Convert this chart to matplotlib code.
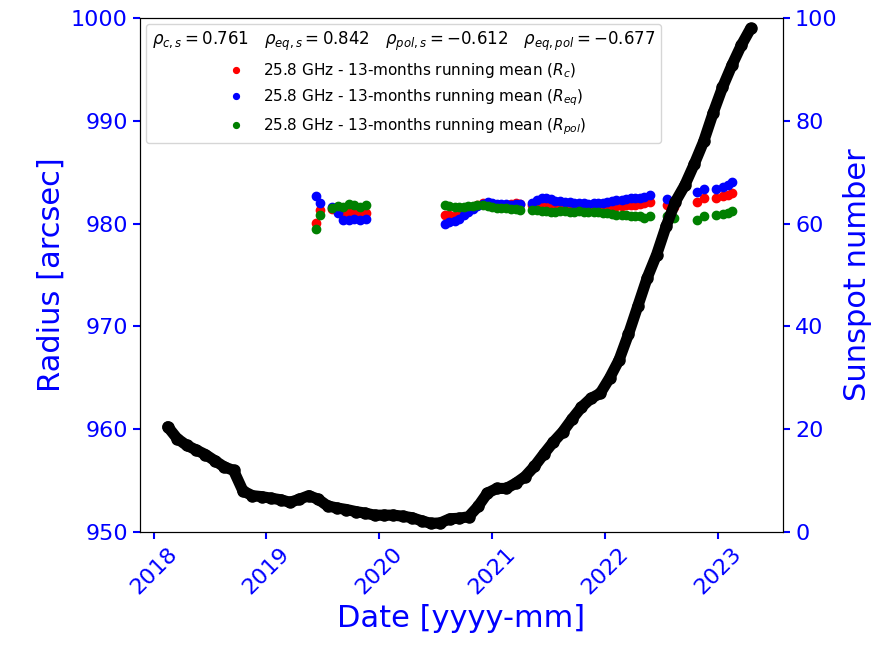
import matplotlib
matplotlib.use("Agg")
import matplotlib.pyplot as plt

# monthly sunspot number (13-month smoothed), Feb 2018 .. Apr 2023
sunspot_start = (2018, 2)
sunspot = [20.5, 18.2, 16.9, 16.0, 15.1, 13.9, 12.7, 12.0, 8.0, 7.1, 6.9,
           6.6, 6.3, 5.8, 6.4, 7.1, 6.4, 5.1, 4.7, 4.4, 4.0, 3.7, 3.3,
           3.3, 3.3, 3.1, 2.8, 2.2, 1.7, 1.8, 2.6, 2.7, 3.0, 5.0, 7.6,
           8.5, 8.5, 9.5, 10.8, 12.8, 15.2, 17.5, 19.5, 22.0, 24.3, 26.0, 27.0,
           30.0, 33.5, 38.5, 44.0, 49.5, 54.0, 59.5, 64.3, 67.5, 71.6, 76.0, 81.5,
           86.5, 90.8, 94.7, 98.0]

# 25.8 GHz radius, 13-month running means (decimal years)
t_rad = [2019.44, 2019.47, 2019.58, 2019.63, 2019.68, 2019.73, 2019.78, 2019.83, 2019.88,
         2020.58, 2020.62, 2020.67, 2020.71, 2020.75, 2020.79, 2020.83, 2020.87, 2020.92,
         2020.96, 2021.00, 2021.04, 2021.08, 2021.12, 2021.17, 2021.21, 2021.25,
         2021.35, 2021.40, 2021.44, 2021.48, 2021.52, 2021.56, 2021.60, 2021.65, 2021.69,
         2021.73, 2021.77, 2021.81, 2021.85, 2021.90, 2021.94, 2021.98, 2022.02, 2022.06,
         2022.10, 2022.15, 2022.19, 2022.23, 2022.27, 2022.31, 2022.35, 2022.40,
         2022.55, 2022.61,
         2022.82, 2022.88,
         2022.98, 2023.05, 2023.09, 2023.13]
r_c = [980.1, 981.3, 981.4, 981.2, 981.0, 981.1, 981.0, 980.9, 981.0,
       980.8, 980.8, 980.7, 980.9, 981.2, 981.5, 981.6, 981.8, 982.0,
       982.0, 981.9, 981.8, 981.8, 981.8, 981.9, 982.0, 981.9,
       981.8, 981.9, 982.0, 982.0, 981.9, 981.8, 981.8, 981.8, 981.8,
       981.8, 981.8, 981.8, 981.7, 981.8, 981.8, 981.8, 981.8, 981.7,
       981.7, 981.7, 981.8, 981.8, 981.8, 981.9, 982.0, 982.1,
       981.8, 981.6,
       982.1, 982.5,
       982.5, 982.7, 982.8, 983.0]
r_eq = [982.7, 982.0, 981.6, 981.0, 980.4, 980.4, 980.5, 980.4, 980.5,
        980.0, 980.2, 980.3, 980.5, 980.8, 981.1, 981.4, 981.7, 981.9,
        982.1, 982.0, 981.9, 981.9, 981.9, 981.8, 981.9, 981.9,
        982.0, 982.3, 982.5, 982.5, 982.4, 982.2, 982.2, 982.1, 982.1,
        982.0, 982.0, 982.0, 981.9, 982.0, 982.0, 982.0, 982.1, 982.2,
        982.3, 982.3, 982.4, 982.5, 982.5, 982.5, 982.6, 982.8,
        982.4, 982.2,
        983.1, 983.4,
        983.4, 983.6, 983.8, 984.1]
r_pol = [979.5, 980.8, 981.5, 981.7, 981.6, 981.9, 981.8, 981.6, 981.8,
         981.8, 981.7, 981.6, 981.6, 981.6, 981.7, 981.7, 981.8, 981.8,
         981.7, 981.6, 981.5, 981.5, 981.5, 981.4, 981.4, 981.3,
         981.3, 981.3, 981.2, 981.2, 981.1, 981.1, 981.2, 981.2, 981.1,
         981.1, 981.2, 981.1, 981.1, 981.1, 981.1, 981.0, 981.0, 980.9,
         980.8, 980.8, 980.8, 980.7, 980.7, 980.7, 980.6, 980.7,
         980.7, 980.6,
         980.4, 980.7,
         980.8, 980.9, 981.0, 981.2]

corr_title = (r"$\rho_{c,s}=0.761$   $\rho_{eq,s}=0.842$   "
              r"$\rho_{pol,s}=-0.612$   $\rho_{eq,pol}=-0.677$")

# mid-month decimal years for the sunspot series
y0, m0 = sunspot_start
t_ss = [y0 + (m0 - 1 + i + 0.5) / 12.0 for i in range(len(sunspot))]

fig = plt.figure(figsize=(8.84, 6.45), dpi=100)
ax1 = fig.add_axes([0.158, 0.175, 0.728, 0.797])
ax2 = ax1.twinx()

ax1.plot(t_rad, r_c, "o", color="red", ms=6,
         label=r"25.8 GHz - 13-months running mean ($R_c$)")
ax1.plot(t_rad, r_eq, "o", color="blue", ms=6,
         label=r"25.8 GHz - 13-months running mean ($R_{eq}$)")
ax1.plot(t_rad, r_pol, "o", color="green", ms=6,
         label=r"25.8 GHz - 13-months running mean ($R_{pol}$)")

ax2.plot(t_ss, sunspot, "o-", color="black", ms=8, lw=8,
         solid_capstyle="round", solid_joinstyle="round")

ax1.set_xlim(2017.876, 2023.58)
ax1.set_ylim(950, 1000)
ax2.set_ylim(0, 100)
ax1.set_xticks([2018, 2019, 2020, 2021, 2022, 2023])
ax1.set_xticklabels(["2018", "2019", "2020", "2021", "2022", "2023"], rotation=45)
ax1.set_yticks(range(950, 1001, 10))
ax2.set_yticks(range(0, 101, 20))

ax1.tick_params(axis="both", colors="blue", labelsize=16, width=1.5, length=5)
ax2.tick_params(axis="y", colors="blue", labelsize=16, width=1.5, length=5)
ax1.set_xlabel("Date [yyyy-mm]", color="blue", fontsize=22)
ax1.set_ylabel("Radius [arcsec]", color="blue", fontsize=22)
ax2.set_ylabel("Sunspot number", color="blue", fontsize=22)

leg = ax1.legend(loc="upper left", title=corr_title, fontsize=11,
                 title_fontsize=12, markerscale=0.7, borderaxespad=0.4)
leg.set_zorder(5)

fig.savefig("out.png", dpi=100)
